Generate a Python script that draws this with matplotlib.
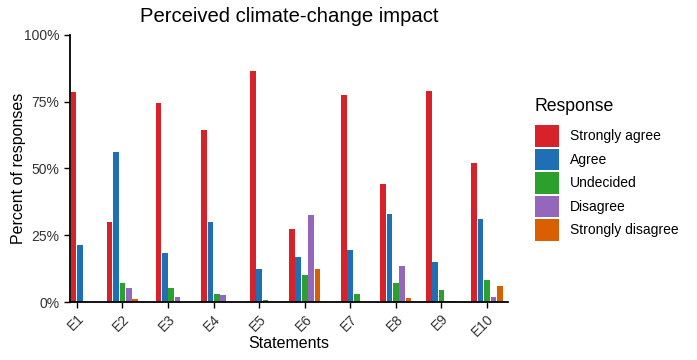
import matplotlib
matplotlib.use("Agg")
import matplotlib.pyplot as plt
from matplotlib.patches import Patch
import numpy as np

plt.rcParams["font.family"] = ["Liberation Sans", "DejaVu Sans"]

# ================= DATA =================
statements = ["E1", "E2", "E3", "E4", "E5", "E6", "E7", "E8", "E9", "E10"]
responses = ["Strongly agree", "Agree", "Undecided", "Disagree", "Strongly disagree"]
colors = ["#d7222a", "#1f6fb4", "#2ca02c", "#9467bd", "#d95f02"]

# percent per response, None = no answer recorded (bar dropped)
strongly_agree = [78.8, 30.1, 74.4, 64.4, 86.5, 27.2, 77.5, 44.2, 79.1, 52.1]
agree = [21.3, 56.3, 18.5, 30.1, 12.5, 16.7, 19.5, 33.1, 15.1, 31.0]
undecided = [None, 7.2, 5.1, 3.0, 0.8, 10.2, 3.0, 7.1, 4.5, 8.2]
disagree = [None, 5.1, 2.0, 2.5, None, 32.6, None, 13.6, 0.3, 1.9]
strongly_disagree = [None, 1.0, None, None, None, 12.5, None, 1.5, 0.3, 6.1]

series = [strongly_agree, agree, undecided, disagree, strongly_disagree]

# ================= FIGURE =================
fig = plt.figure(figsize=(6.97, 3.6), dpi=100)
ax = fig.add_axes([0.1004, 0.161, 0.6284, 0.742])

step = 0.14
bar_w = 0.125
x = np.arange(1, len(statements) + 1)

# dodge bars that exist in each group, centered on the tick
for i in range(len(statements)):
    present = [k for k in range(len(responses)) if series[k][i] is not None]
    n = len(present)
    for j, k in enumerate(present):
        off = (j - (n - 1) / 2) * step
        ax.bar(x[i] + off, series[k][i], width=bar_w, color=colors[k], linewidth=0)

ax.set_xlim(0.85, 10.46)
ax.set_ylim(0, 100)
ax.set_xticks(x)
ax.set_xticklabels(statements, rotation=45, ha="right", va="top",
                   rotation_mode="anchor", fontsize=10, color="#333333")
ax.set_yticks([0, 25, 50, 75, 100])
ax.set_yticklabels(["0%", "25%", "50%", "75%", "100%"], fontsize=10, color="#333333")
ax.tick_params(axis="both", length=4, width=1, color="black")
ax.tick_params(axis="x", pad=3)

for s in ["top", "right"]:
    ax.spines[s].set_visible(False)
for s in ["left", "bottom"]:
    ax.spines[s].set_linewidth(1.3)

ax.set_xlabel("Statements", fontsize=11.5, labelpad=-2)
ax.set_ylabel("Percent of responses", fontsize=11.5, labelpad=-1.5)
ax.set_title("Perceived climate-change impact", fontsize=14.6, pad=9)

# ================= LEGEND =================
handles = [Patch(facecolor=c, edgecolor="none") for c in colors]
leg = fig.legend(handles, responses, title="Response", loc="upper left",
                 bbox_to_anchor=(0.759, 0.742), frameon=False, fontsize=10,
                 title_fontsize=12.7, handlelength=1.73, handleheight=2.0,
                 handletextpad=0.8, labelspacing=0.15, borderaxespad=0)
leg._legend_box.align = "left"
leg._legend_box.sep = 7  # a bit more room under the title

fig.savefig("out.png", dpi=100)
